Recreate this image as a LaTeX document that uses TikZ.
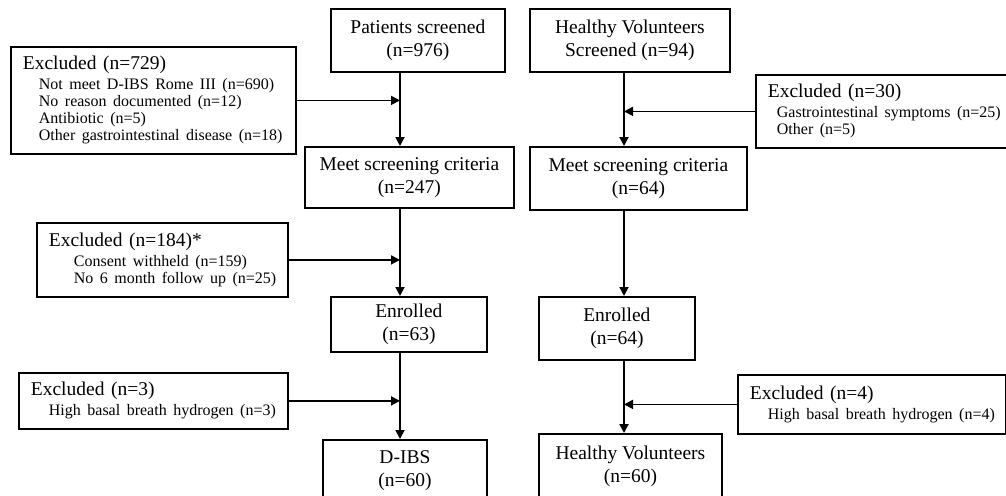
\documentclass[tikz,border=0pt]{standalone}
\usepackage{fontspec}
\setmainfont{Liberation Serif}
\usetikzlibrary{arrows.meta,positioning}

\newcommand{\exitemfont}{\fontsize{16}{17}\selectfont}
\newcommand{\exline}[1]{\mbox{#1}\par}

\begin{document}
\begin{tikzpicture}[
    x=1pt, y=-1pt,
    mybox/.style={draw, line width=1.8pt, anchor=north west, align=center, inner sep=0pt, font=\fontsize{19.5}{23}\selectfont},
    myexcl/.style={draw, line width=1.8pt, anchor=north west, align=left, inner xsep=12pt, inner ysep=0pt, font=\fontsize{19.5}{20}\selectfont},
    myedge/.style={-{Triangle[length=9pt,width=9pt]}, line width=1.8pt}
]
\clip (0,0) rectangle (1006,495);

\coordinate (lx) at (400,0);
\coordinate (rx) at (624,0);

\node[mybox, minimum width=174pt, minimum height=63pt] (ps) at (330,8) {Patients screened\\(n=976)};
\node[mybox, minimum width=200pt, minimum height=63pt] (hs) at (529,8) {Healthy Volunteers\\Screened (n=94)};
\node[mybox, minimum width=209pt, minimum height=61pt] (pm) at (304,146) {Meet screening criteria\\(n=247)};
\node[mybox, minimum width=217pt, minimum height=63pt] (hm) at (529,146) {Meet screening criteria\\(n=64)};
\node[mybox, minimum width=156pt, minimum height=55pt] (pe) at (330,296) {Enrolled\\(n=63)};
\node[mybox, minimum width=156pt, minimum height=63pt] (he) at (538,296) {Enrolled\\(n=64)};
\node[mybox, minimum width=164pt, minimum height=62pt] (pd) at (322,439) {D-IBS\\(n=60)};
\node[mybox, minimum width=183pt, minimum height=64pt] (hv) at (538,433) {Healthy Volunteers\\(n=60)};

\node[myexcl, text width=261pt, minimum height=107pt] (exA) at (10,46) {{Excluded (n=729)\par}\vspace{3pt}
    {\exitemfont\leftskip=16pt
    \exline{Not meet D-IBS Rome III (n=690)}
    \exline{No reason documented (n=12)}
    \exline{Antibiotic (n=5)}
    \exline{Other gastrointestinal disease (n=18)}}};
\node[myexcl, text width=227pt, minimum height=74pt] (exB) at (36,222) {{Excluded (n=184)*\par}\vspace{3pt}
    {\exitemfont\leftskip=25pt
    \exline{Consent withheld (n=159)}
    \exline{No 6 month follow up (n=25)}}};
\node[myexcl, text width=245pt, minimum height=56pt] (exC) at (18,372) {{Excluded (n=3)\par}\vspace{3pt}
    {\exitemfont\leftskip=18pt
    \exline{High basal breath hydrogen (n=3)}}};
\node[myexcl, text width=233pt, minimum height=73pt] (exD) at (755,74) {{Excluded (n=30)\par}\vspace{3pt}
    {\exitemfont\leftskip=9pt
    \exline{Gastrointestinal symptoms (n=25)}
    \exline{Other (n=5)}}};
\node[myexcl, text width=244pt, minimum height=59pt] (exE) at (737,374) {{Excluded (n=4)\par}\vspace{3pt}
    {\exitemfont\leftskip=18pt
    \exline{High basal breath hydrogen (n=4)}}};

\draw[myedge] (ps.south -| lx) -- (pm.north -| lx);
\draw[myedge] (pm.south -| lx) -- (pe.north -| lx);
\draw[myedge] (pe.south -| lx) -- (pd.north -| lx);
\draw[myedge] (hs.south -| rx) -- (hm.north -| rx);
\draw[myedge] (hm.south -| rx) -- (he.north -| rx);
\draw[myedge] (he.south -| rx) -- (hv.north -| rx);

\draw[myedge] (exA.east) -- (exA.east -| lx);
\draw[myedge] (exB.east) -- (exB.east -| lx);
\draw[myedge] (exC.east) -- (exC.east -| lx);
\draw[myedge] (exD.west) -- (exD.west -| rx);
\draw[myedge] (exE.west) -- (exE.west -| rx);
\end{tikzpicture}
\end{document}
